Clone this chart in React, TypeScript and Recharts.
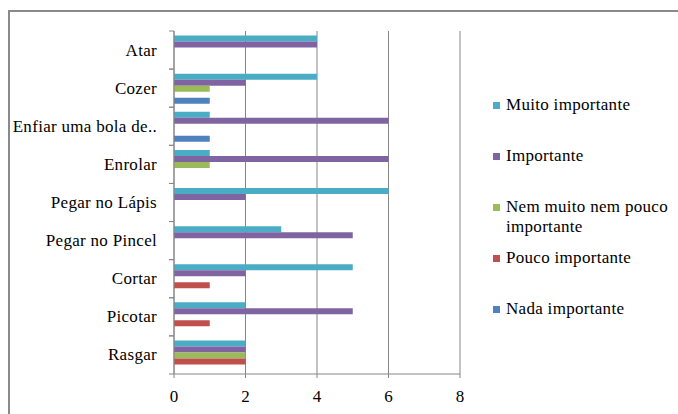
import React from 'react';
import { BarChart, Bar, XAxis, YAxis, CartesianGrid } from 'recharts';

const categories = [
  'Atar',
  'Cozer',
  'Enfiar uma bola de..',
  'Enrolar',
  'Pegar no Lápis',
  'Pegar no Pincel',
  'Cortar',
  'Picotar',
  'Rasgar',
];
const muitoImportante = [4, 4, 1, 1, 6, 3, 5, 2, 2];
const importante = [4, 2, 6, 6, 2, 5, 2, 5, 2];
const nemMuitoNemPouco = [0, 1, 0, 1, 0, 0, 0, 0, 2];
const poucoImportante = [0, 0, 0, 0, 0, 0, 1, 1, 2];
const nadaImportante = [0, 1, 1, 0, 0, 0, 0, 0, 0];
const xTicks = [0, 2, 4, 6, 8];

const series = [
  { key: 'muito', name: 'Muito importante', color: '#4BACC6', values: muitoImportante },
  { key: 'importante', name: 'Importante', color: '#8064A2', values: importante },
  { key: 'nem', name: 'Nem muito nem pouco importante', color: '#9BBB59', values: nemMuitoNemPouco },
  { key: 'pouco', name: 'Pouco importante', color: '#C0504D', values: poucoImportante },
  { key: 'nada', name: 'Nada importante', color: '#4F81BD', values: nadaImportante },
];

const data = categories.map((name, i) => {
  const row: any = { name };
  series.forEach((s) => (row[s.key] = s.values[i]));
  return row;
});

const W = 678;
const H = 414;
const TOP = 31;
const BOTTOM = 40;
const BAND = (H - TOP - BOTTOM) / categories.length;
const FONT = '"Liberation Serif", "DejaVu Serif", serif';
const FS = 17;
const LS = 0.3;
const AXIS = '#868686';

// category labels plus Excel-like tick marks on the band edges
const CategoryTick = (props: any) => {
  const { x, y, payload } = props;
  return (
    <g>
      <text
        x={x}
        y={y}
        textAnchor="end"
        dominantBaseline="central"
        style={{ fontFamily: FONT, letterSpacing: LS }}
        fontSize={FS}
        fill="#000"
      >
        {payload.value}
      </text>
      <line x1={x + 12} x2={x + 17} y1={y - BAND / 2} y2={y - BAND / 2} stroke={AXIS} />
      <line x1={x + 12} x2={x + 17} y1={y + BAND / 2} y2={y + BAND / 2} stroke={AXIS} />
    </g>
  );
};

const LegendBox = () => (
  <div
    style={{
      position: 'absolute',
      left: 493,
      top: 95,
      width: 185,
      height: 240,
      fontFamily: FONT,
      fontSize: FS,
      letterSpacing: LS,
      color: '#000',
    }}
  >
    {series.map((s, i) => (
      <div key={s.key} style={{ position: 'absolute', top: i * 51, left: 0, display: 'flex', alignItems: 'flex-start' }}>
        <span style={{ width: 7, height: 7, background: s.color, marginTop: 7, marginRight: 6, flexShrink: 0 }} />
        <span style={{ lineHeight: '20px', width: 172 }}>{s.name}</span>
      </div>
    ))}
  </div>
);

export default function App() {
  return (
    <div style={{ position: 'absolute', left: 0, top: 0, width: W, height: H, background: '#fff', fontFamily: FONT }}>
      <div
        style={{
          position: 'absolute',
          left: 8,
          top: 10,
          width: W - 8,
          height: H - 10,
          borderLeft: '2px solid #8a8a8a',
          borderTop: '2px solid #8a8a8a',
          boxSizing: 'border-box',
        }}
      />
      <div style={{ position: 'absolute', left: 0, top: 0 }}>
        <BarChart
          width={W}
          height={H}
          data={data}
          layout="vertical"
          margin={{ top: TOP, right: 218, bottom: 0, left: 0 }}
          barGap={0}
          barCategoryGap="12%"
          style={{ fontFamily: FONT }}
        >
          <CartesianGrid horizontal={false} vertical stroke={AXIS} />
          <XAxis
            type="number"
            domain={[0, 8]}
            ticks={xTicks}
            height={BOTTOM}
            stroke={AXIS}
            tickSize={4}
            tickMargin={12}
            tick={{ fontSize: FS, fill: '#000', style: { fontFamily: FONT } }}
          />
          <YAxis
            type="category"
            dataKey="name"
            width={174}
            stroke={AXIS}
            tickLine={false}
            tickSize={5}
            tickMargin={12}
            interval={0}
            tick={<CategoryTick />}
          />
          {series.map((s) => (
            <Bar key={s.key} dataKey={s.key} name={s.name} fill={s.color} isAnimationActive={false} />
          ))}
        </BarChart>
      </div>
      <LegendBox />
    </div>
  );
}
